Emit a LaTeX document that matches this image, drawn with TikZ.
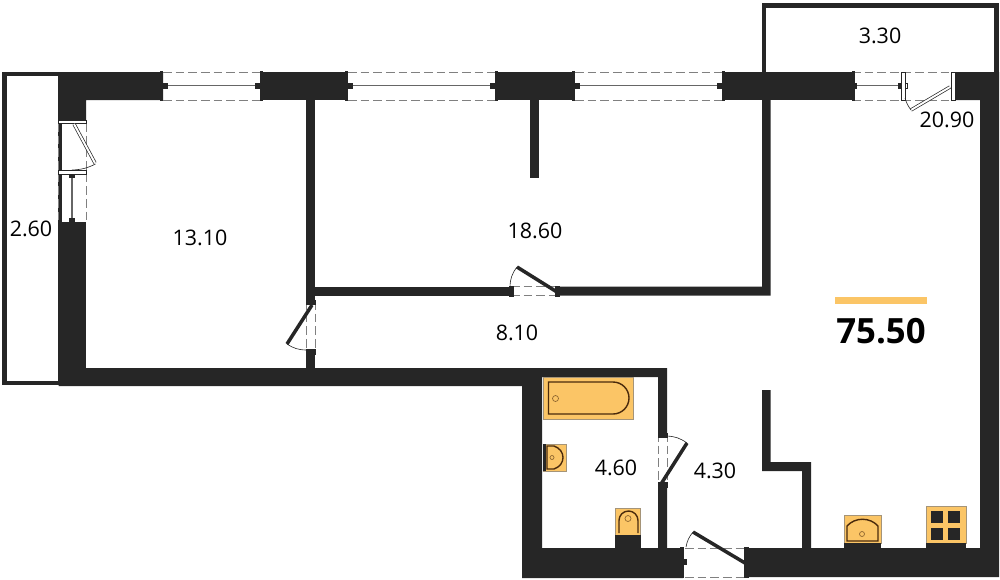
\documentclass[tikz,border=0pt]{standalone}
\usepackage{fontspec}
\setmainfont{Open Sans}
\usepackage{tikz}
\definecolor{wallc}{HTML}{262626}
\definecolor{fixc}{HTML}{FBC566}
\definecolor{linec}{HTML}{4A2A0C}
\tikzset{
  wall/.style={fill=wallc,draw=none},
  frame/.style={draw=wallc,line width=2.6pt},
  gap/.style={draw=gray,dashed,dash pattern=on 5pt off 2.2pt,line width=.5pt},
  pane/.style={draw=gray!80!black,line width=.7pt},
  leaf/.style={draw=wallc,line width=2pt},
  glassleaf/.style={draw=wallc,double=white,double distance=1.1pt,line width=.4pt},
  swing/.style={draw=wallc,line width=.35pt},
  sill/.style={fill=white,draw=wallc,line width=.45pt},
  fixture/.style={fill=fixc,draw=gray!70!fixc,line width=.5pt},
  basin/.style={draw=linec,line width=.8pt},
  area/.style={font=\fontsize{12.2}{14}\selectfont,text=black}
}
\begin{document}
\begin{tikzpicture}[x=0.02cm,y=-0.02cm]
\useasboundingbox (0,0) rectangle (1000,579);
% loggias
\draw[frame] (4.5,74) rectangle (60,383);
\draw[frame] (764,72) -- (764,5.5) -- (996.5,5.5) -- (996.5,72);
% outer walls
\fill[wall] (58.5,72) -- (163,72) -- (163,100) -- (86,100) -- (86,120) -- (58.5,120) -- cycle;
\fill[wall] (260,72) rectangle (348,100);
\fill[wall] (495,72) rectangle (575,100);
\fill[wall] (722,72) rectangle (852,100);
\fill[wall] (955,72) -- (999,72) -- (999,577) -- (745,577) -- (745,548) -- (980,548) -- (980,100) -- (955,100) -- cycle;
\fill[wall] (58.5,222) rectangle (86,386);
\fill[wall] (58.5,368) -- (667,368) -- (667,433) -- (658,433) -- (658,377) -- (542,377) -- (542,548) -- (658,548) -- (658,487) -- (667,487) -- (667,548) -- (683,548) -- (683,578) -- (522,578) -- (522,386) -- (58.5,386) -- cycle;
% partitions
\fill[wall] (306,100) rectangle (315,301);
\fill[wall] (306,353) rectangle (315,368);
\fill[wall] (315,286.5) rectangle (511,295.5);
\fill[wall] (557,286.5) -- (762,286.5) -- (762,100) -- (770.5,100) -- (770.5,295.5) -- (557,295.5) -- cycle;
\fill[wall] (530,100) rectangle (539,178);
\fill[wall] (762,390) -- (770.5,390) -- (770.5,462) -- (811,462) -- (811,548) -- (802,548) -- (802,471) -- (762,471) -- cycle;
% windows
\foreach \xa/\xb in {163/260,348/495,575/722}{
  \draw[gap] (\xa,72) -- (\xb,72);
  \draw[gap] (\xa,100) -- (\xb,100);
  \draw[pane] (\xa,85.5) -- (\xb,85.5);
  \fill[wall] (\xa-3,71) rectangle (\xa,101);
  \fill[wall] (\xb,71) rectangle (\xb+3,101);
  \fill[wall] (\xa,82.5) rectangle (\xa+5,88.5);
  \fill[wall] (\xb-5,82.5) rectangle (\xb,88.5);
}
% balcony door, left
\draw[gap] (58.5,123) -- (58.5,222);
\draw[gap] (86.5,123) -- (86.5,222);
\filldraw[sill] (58.5,120) rectangle (86.5,123.5);
\filldraw[sill] (58.5,170) rectangle (86.5,174);
\draw[glassleaf] (74,124) -- (95,163);
\draw[swing] (95.5,164) to[bend left=12] (72,170);
\draw[pane] (72,176) -- (72,220);
\fill[wall] (69,174) rectangle (75,178);
\fill[wall] (69,218) rectangle (75,222);
% balcony door, right
\draw[gap] (852,72) -- (951,72);
\draw[gap] (852,100) -- (951,100);
\fill[wall] (852,71) rectangle (855,101);
\fill[wall] (855,83) rectangle (857,89);
\draw[pane] (857,85.5) -- (900,85.5);
\fill[wall] (898,83) rectangle (902,89);
\filldraw[sill] (901.5,72) rectangle (905,100);
\filldraw[sill] (951.5,72) rectangle (955,100);
\filldraw[sill] (905,83) rectangle (907.5,88);
\draw[glassleaf] (950,87) -- (911,110);
\draw[swing] (911,110) to[bend left=10] (905,98);
% interior doors
\draw[gap] (511,286.5) -- (557,286.5);
\draw[gap] (511,295.5) -- (557,295.5);
\fill[wall] (509,285.5) rectangle (514,296.5);
\fill[wall] (555,285.5) rectangle (560,296.5);
\draw[leaf] (557,292) -- (517,267);
\draw[swing] (517,267) to[bend right=18] (510,287);
\draw[gap] (306.5,301) -- (306.5,353);
\draw[gap] (315,301) -- (315,353);
\fill[wall] (305.5,300) rectangle (316,305);
\fill[wall] (305.5,349) rectangle (316,355);
\draw[leaf] (312,305) -- (287,344);
\draw[swing] (287,344) to[bend right=16] (306,350);
\draw[gap] (658.5,433) -- (658.5,487);
\draw[gap] (667,433) -- (667,487);
\fill[wall] (657.5,433) rectangle (668,438);
\fill[wall] (657.5,482) rectangle (668,488);
\draw[leaf] (661,484) -- (687,443);
\draw[swing] (687,443) to[bend right=16] (667,436);
\draw[gap] (685,548) -- (745,548);
\draw[gap] (685,577) -- (745,577);
\fill[wall] (680,547) rectangle (684,578);
\fill[wall] (684,559) rectangle (687,565);
\fill[wall] (744,547) rectangle (749,578);
\draw[leaf] (745,563) -- (693,532);
\draw[swing] (693,532) to[bend right=14] (686,547);
% bathroom
\filldraw[fixture] (543,377) rectangle (633,419);
\draw[basin] (548.5,382) -- (613,382) arc[start angle=-90,end angle=90,radius=16] -- (548.5,414) -- cycle;
\draw[linec!60!fixc,line width=.4pt] (555.5,398.5) circle[radius=3];
\filldraw[fixture] (543,444) rectangle (566.5,471);
\fill[wall] (543,444) rectangle (546,471);
\draw[basin] (547,446) -- (554,446) .. controls (566,450) and (566,465) .. (554,469) -- (547,469) -- cycle;
\draw[linec!60!fixc,line width=.4pt] (552,457.5) circle[radius=2];
\filldraw[fixture] (615,508) rectangle (640,535);
\fill[wall] (615,535) rectangle (640.5,548);
\draw[basin] (619,533) -- (619,520.5) arc[start angle=180,end angle=360,radius=9.5] -- (638,533);
\draw[linec!60!fixc,line width=.4pt] (628,518.5) circle[radius=3];
% kitchen
\filldraw[fixture] (844,515) rectangle (881,543);
\fill[wall] (844,543) rectangle (881,548);
\draw[basin] (847,541) -- (847,526) .. controls (855,517) and (870,517) .. (878,526) -- (878,541) -- cycle;
\draw[linec!60!fixc,line width=.4pt] (862,534) circle[radius=2.5];
\filldraw[fixture] (926,506) rectangle (966,543);
\fill[wall] (926,543) rectangle (966,548);
\foreach \xa in {931,948}{
  \foreach \ya in {511,528}{
    \fill[wall] (\xa,\ya) rectangle (\xa+12,\ya+12);
  }
}
% total
\fill[fixc] (835,297) rectangle (927,304);
\node[font=\bfseries\fontsize{19.8}{22}\selectfont,text=black] (total) at (881,331) {75.50};
% room areas
\node[area] (balc) at (880,36) {3.30};
\node[area] (hall) at (947,120) {20.90};
\node[area] (logg) at (31,229) {2.60};
\node[area] (bedr) at (200,238) {13.10};
\node[area] (livr) at (535,231) {18.60};
\node[area] (corr) at (517,333) {8.10};
\node[area] (bath) at (616,468) {4.60};
\node[area] (wc) at (715,471) {4.30};
\end{tikzpicture}
\end{document}
